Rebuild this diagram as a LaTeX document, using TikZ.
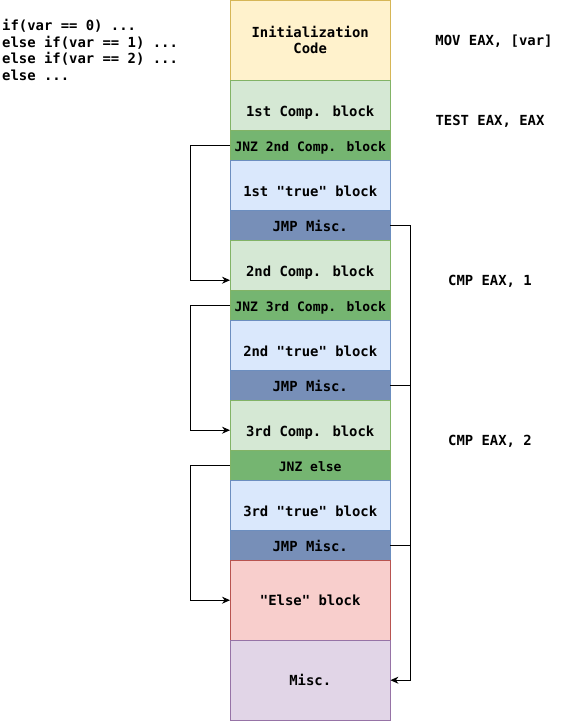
\documentclass[tikz,border=0pt]{standalone}
\usepackage{fontspec}
\newfontfamily\mono{DejaVu Sans Mono}
\usetikzlibrary{arrows.meta,calc}
\definecolor{initF}{HTML}{FFF2CC}\definecolor{initD}{HTML}{D6B656}
\definecolor{compF}{HTML}{D5E8D4}\definecolor{compD}{HTML}{82B366}
\definecolor{jnzF}{HTML}{75B571}
\definecolor{trueF}{HTML}{DAE8FC}\definecolor{trueD}{HTML}{6C8EBF}
\definecolor{jmpF}{HTML}{778FB8}
\definecolor{elseF}{HTML}{F8CECC}\definecolor{elseD}{HTML}{B85450}
\definecolor{miscF}{HTML}{E1D5E7}\definecolor{miscD}{HTML}{9673A6}
\tikzset{
  blk/.style={minimum width=160pt, minimum height=#1, anchor=north west, inner sep=0pt,
    font=\mono\bfseries\fontsize{13.9pt}{16pt}\selectfont, align=center},
  tallblk/.style={blk=50pt, text height=25pt, text depth=3pt},
  initblk/.style={blk=80pt, fill=initF, draw=initD},
  compblk/.style={tallblk, fill=compF, draw=compD},
  jnzblk/.style={blk=30pt, fill=jnzF, draw=compD, text height=16pt, text depth=3pt,
    font=\mono\bfseries\fontsize{13pt}{15pt}\selectfont},
  trueblk/.style={tallblk, fill=trueF, draw=trueD},
  jmpblk/.style={blk=30pt, fill=jmpF, draw=trueD, text height=15pt, text depth=3pt},
  elseblk/.style={blk=80pt, fill=elseF, draw=elseD},
  miscblk/.style={blk=80pt, fill=miscF, draw=miscD},
  note/.style={font=\mono\bfseries\fontsize{13.9pt}{16.5pt}\selectfont, inner sep=0pt},
  conn/.style={draw=black, line width=0.9pt},
  arr/.style={conn, -{Stealth[length=8pt,width=7pt]}}
}
\begin{document}
\begin{tikzpicture}[x=1pt,y=-1pt]
\useasboundingbox (0,0) rectangle (561,721);
\node[initblk] (init) at (230,0) {Initialization\\Code};
\node[compblk] (comp1) at (230,80) {1st Comp. block};
\node[jnzblk] (jnz1) at (230,130) {JNZ 2nd Comp. block};
\node[trueblk] (true1) at (230,160) {1st "true" block};
\node[jmpblk] (jmp1) at (230,210) {JMP Misc.};
\node[compblk] (comp2) at (230,240) {2nd Comp. block};
\node[jnzblk] (jnz2) at (230,290) {JNZ 3rd Comp. block};
\node[trueblk] (true2) at (230,320) {2nd "true" block};
\node[jmpblk] (jmp2) at (230,370) {JMP Misc.};
\node[compblk] (comp3) at (230,400) {3rd Comp. block};
\node[jnzblk] (jnz3) at (230,450) {JNZ else};
\node[trueblk] (true3) at (230,480) {3rd "true" block};
\node[jmpblk] (jmp3) at (230,530) {JMP Misc.};
\node[elseblk] (else) at (230,560) {"Else" block};
\node[miscblk] (misc) at (230,640) {Misc.};

\node[note, anchor=north west, align=left] (code) at (2,19)
  {if(var == 0) ...\\else if(var == 1) ...\\else if(var == 2) ...\\else ...};
\node[note] (mov) at (494,41) {MOV EAX, [var]};
\node[note] (test) at (490,121) {TEST EAX, EAX};
\node[note] (cmp1) at (490,281) {CMP EAX, 1};
\node[note] (cmp2) at (490,441) {CMP EAX, 2};

\coordinate (in2) at ($(comp2.west)+(0,15)$);
\coordinate (in3) at ($(comp3.west)+(0,5)$);
\draw[arr] (jnz1.west) -- ++(-40,0) |- (in2);
\draw[arr] (jnz2.west) -- ++(-40,0) |- (in3);
\draw[arr] (jnz3.west) -- ++(-40,0) |- (else.west);
\draw[arr] (jmp1.east) -- ++(20,0) |- (misc.east);
\draw[conn] (jmp2.east) -- ++(20,0);
\draw[conn] (jmp3.east) -- ++(20,0);
\end{tikzpicture}
\end{document}
